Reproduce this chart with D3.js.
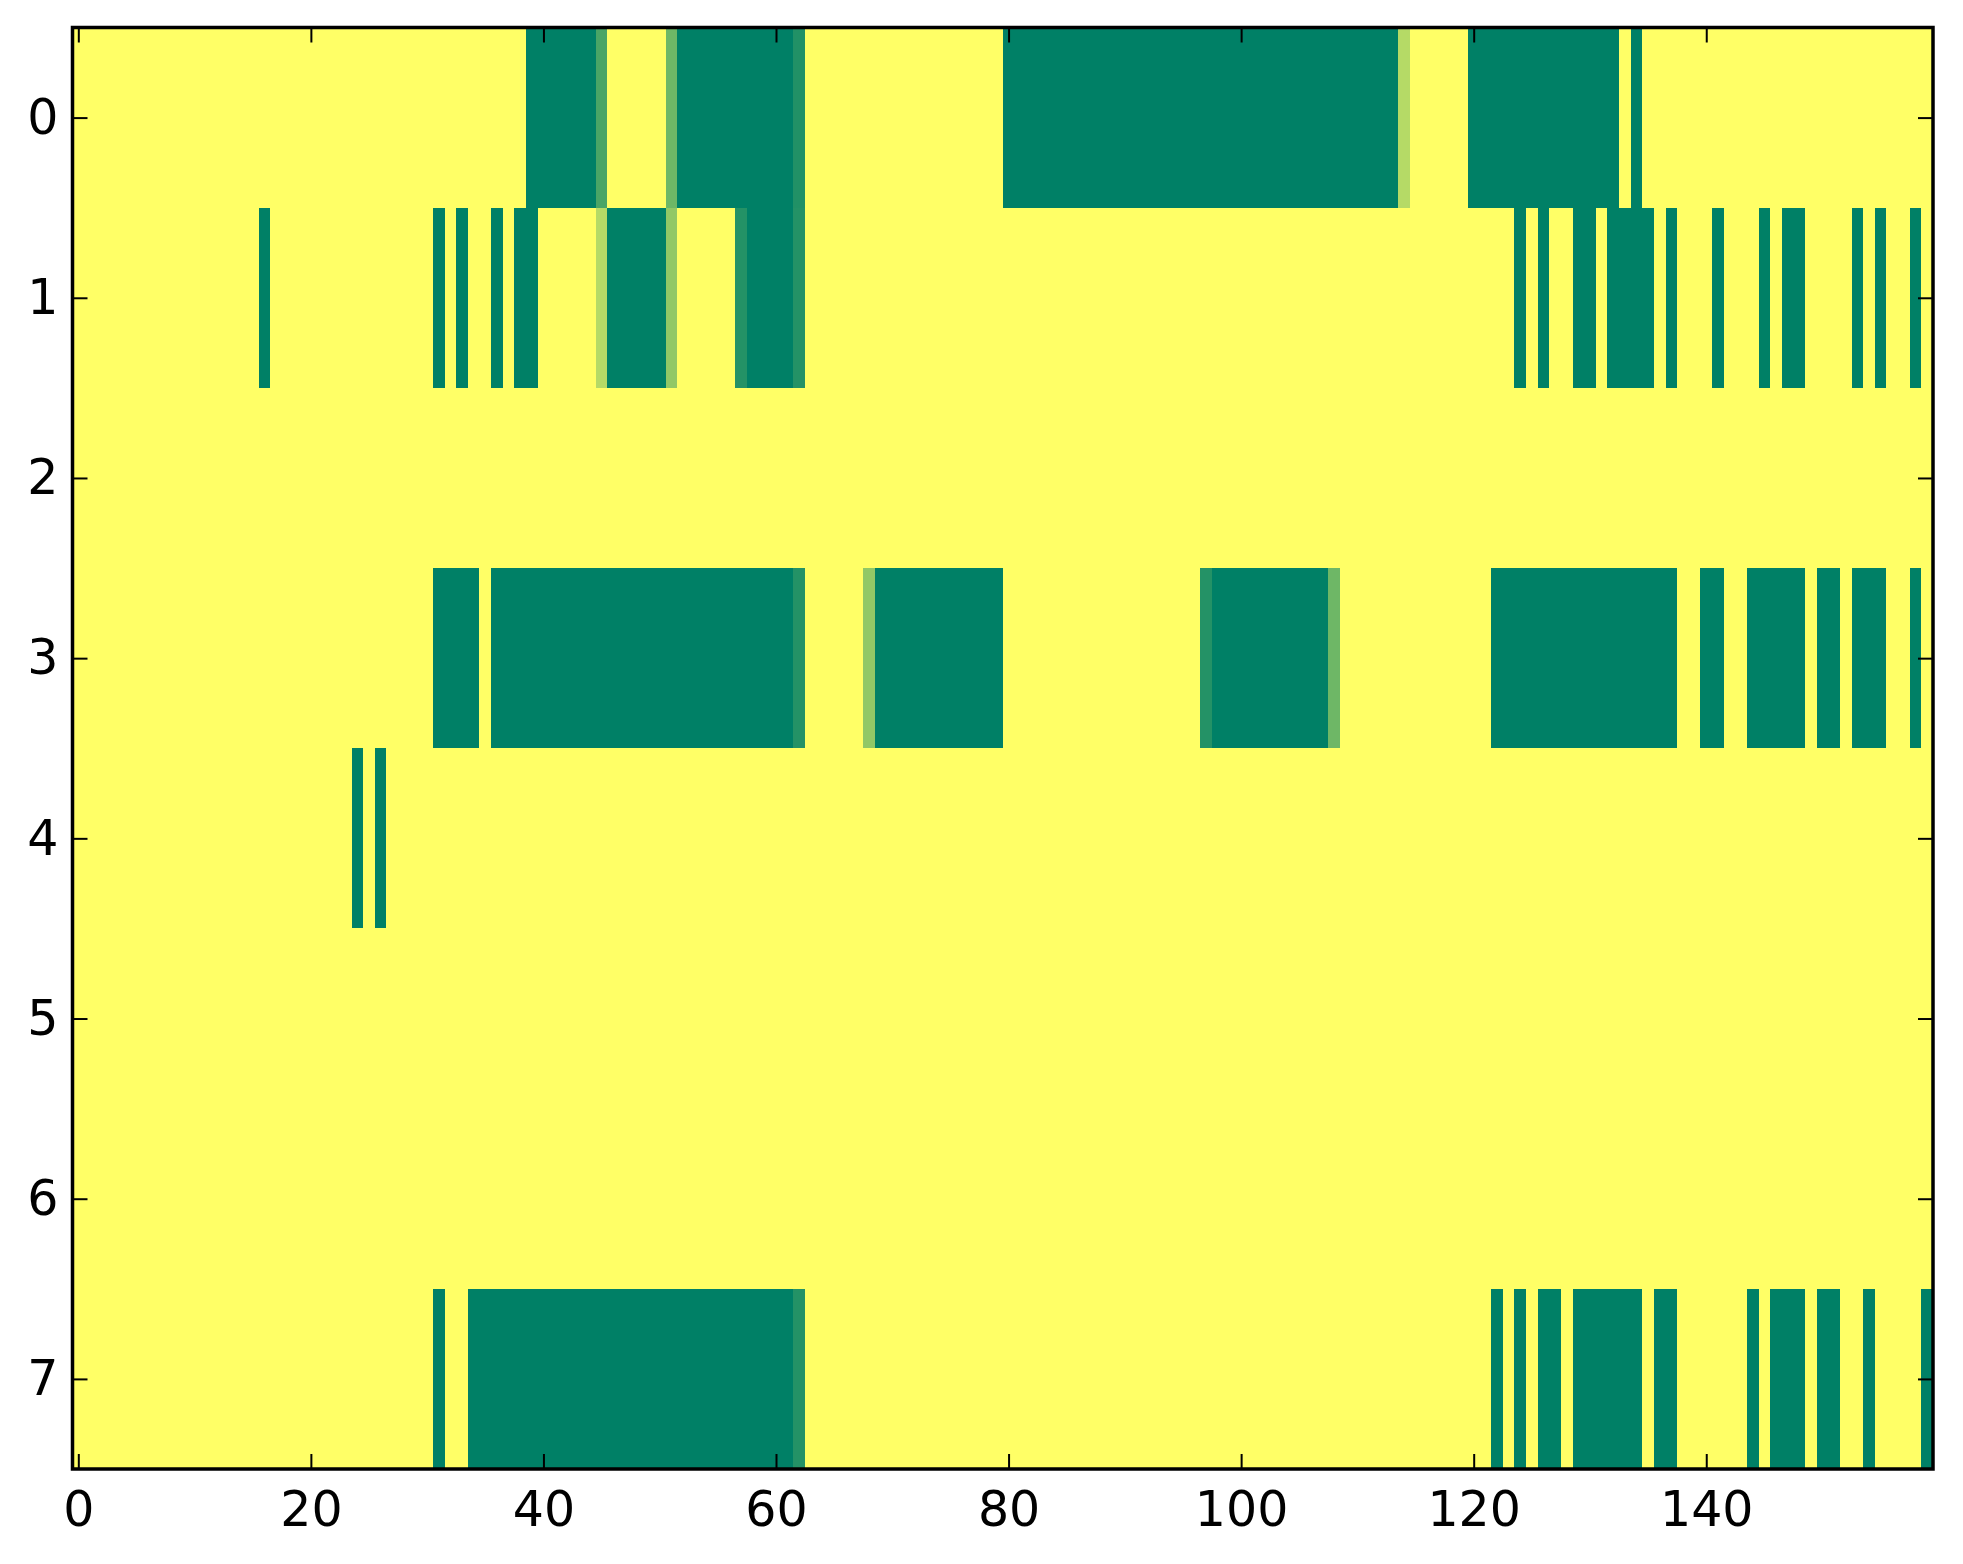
<!DOCTYPE html>
<html>
<head>
<meta charset="utf-8">
<script src="https://cdn.jsdelivr.net/npm/d3@7"></script>
<style>
  body { margin: 0; background: #ffffff; }
  .tick text { font-family: 'DejaVu Sans', sans-serif; font-size: 49px; fill: #000; }
  .tick line { stroke: #000; stroke-width: 2; }
</style>
</head>
<body>
<div class="heat-chart"></div>
<script>
/** cell values, one array per row (0 = green, 1 = yellow) */
let row0 = [
  1,1,1,1,1,1,1,1,1,1, 1,1,1,1,1,1,1,1,1,1,
  1,1,1,1,1,1,1,1,1,1, 1,1,1,1,1,1,1,1,1,0,
  0,0,0,0,0,0.29,1,1,1,1, 1,0.43,0,0,0,0,0,0,0,0,
  0,0,0.13,1,1,1,1,1,1,1, 1,1,1,1,1,1,1,1,1,1,
  0,0,0,0,0,0,0,0,0,0, 0,0,0,0,0,0,0,0,0,0,
  0,0,0,0,0,0,0,0,0,0, 0,0,0,0,0.71,1,1,1,1,1,
  0,0,0,0,0,0,0,0,0,0, 0,0,0,1,0,1,1,1,1,1,
  1,1,1,1,1,1,1,1,1,1, 1,1,1,1,1,1,1,1,1,1
];
let row1 = [
  1,1,1,1,1,1,1,1,1,1, 1,1,1,1,1,1,0,1,1,1,
  1,1,1,1,1,1,1,1,1,1, 1,0,1,0,1,1,0,1,0,0,
  1,1,1,1,1,0.71,0,0,0,0, 0,0.57,1,1,1,1,1,0.14,0,0,
  0,0,0.14,1,1,1,1,1,1,1, 1,1,1,1,1,1,1,1,1,1,
  1,1,1,1,1,1,1,1,1,1, 1,1,1,1,1,1,1,1,1,1,
  1,1,1,1,1,1,1,1,1,1, 1,1,1,1,1,1,1,1,1,1,
  1,1,1,1,0,1,0,1,1,0, 0,1,0,0,0,0,1,0,1,1,
  1,0,1,1,1,0,1,0,0,1, 1,1,1,0,1,0,1,1,0,1
];
let row2 = [
  1,1,1,1,1,1,1,1,1,1, 1,1,1,1,1,1,1,1,1,1,
  1,1,1,1,1,1,1,1,1,1, 1,1,1,1,1,1,1,1,1,1,
  1,1,1,1,1,1,1,1,1,1, 1,1,1,1,1,1,1,1,1,1,
  1,1,1,1,1,1,1,1,1,1, 1,1,1,1,1,1,1,1,1,1,
  1,1,1,1,1,1,1,1,1,1, 1,1,1,1,1,1,1,1,1,1,
  1,1,1,1,1,1,1,1,1,1, 1,1,1,1,1,1,1,1,1,1,
  1,1,1,1,1,1,1,1,1,1, 1,1,1,1,1,1,1,1,1,1,
  1,1,1,1,1,1,1,1,1,1, 1,1,1,1,1,1,1,1,1,1
];
let row3 = [
  1,1,1,1,1,1,1,1,1,1, 1,1,1,1,1,1,1,1,1,1,
  1,1,1,1,1,1,1,1,1,1, 1,0,0,0,0,1,0,0,0,0,
  0,0,0,0,0,0,0,0,0,0, 0,0,0,0,0,0,0,0,0,0,
  0,0,0.14,1,1,1,1,1,0.57,0, 0,0,0,0,0,0,0,0,0,0,
  1,1,1,1,1,1,1,1,1,1, 1,1,1,1,1,1,1,0.14,0,0,
  0,0,0,0,0,0,0,0,0.43,1, 1,1,1,1,1,1,1,1,1,1,
  1,1,0,0,0,0,0,0,0,0, 0,0,0,0,0,0,0,0,1,1,
  0,0,1,1,0,0,0,0,0,1, 0,0,1,0,0,0,1,1,0,1
];
let row4 = [
  1,1,1,1,1,1,1,1,1,1, 1,1,1,1,1,1,1,1,1,1,
  1,1,1,1,0,1,0,1,1,1, 1,1,1,1,1,1,1,1,1,1,
  1,1,1,1,1,1,1,1,1,1, 1,1,1,1,1,1,1,1,1,1,
  1,1,1,1,1,1,1,1,1,1, 1,1,1,1,1,1,1,1,1,1,
  1,1,1,1,1,1,1,1,1,1, 1,1,1,1,1,1,1,1,1,1,
  1,1,1,1,1,1,1,1,1,1, 1,1,1,1,1,1,1,1,1,1,
  1,1,1,1,1,1,1,1,1,1, 1,1,1,1,1,1,1,1,1,1,
  1,1,1,1,1,1,1,1,1,1, 1,1,1,1,1,1,1,1,1,1
];
let row5 = row2.slice();
let row6 = row2.slice();
let row7 = [
  1,1,1,1,1,1,1,1,1,1, 1,1,1,1,1,1,1,1,1,1,
  1,1,1,1,1,1,1,1,1,1, 1,0,1,1,0,0,0,0,0,0,
  0,0,0,0,0,0,0,0,0,0, 0,0,0,0,0,0,0,0,0,0,
  0,0,0.14,1,1,1,1,1,1,1, 1,1,1,1,1,1,1,1,1,1,
  1,1,1,1,1,1,1,1,1,1, 1,1,1,1,1,1,1,1,1,1,
  1,1,1,1,1,1,1,1,1,1, 1,1,1,1,1,1,1,1,1,1,
  1,1,0,1,0,1,0,0,1,0, 0,0,0,0,0,1,0,0,1,1,
  1,1,1,1,0,1,0,0,0,1, 0,0,1,1,0,1,1,1,1,0
];
let rows = [row0, row1, row2, row3, row4, row5, row6, row7];

/** tick labels */
let xTicks = [0, 20, 40, 60, 80, 100, 120, 140];
let yTicks = [0, 1, 2, 3, 4, 5, 6, 7];

/** canvas */
let width = 1963, height = 1564;
let margin = { top: 27.5, right: 30, bottom: 95, left: 72.5 };

let svg = d3.select('.heat-chart').append('svg')
    .attr('width', width)
    .attr('height', height);

/** scales: pixel centres at integer indices like imshow */
let xScale = d3.scaleLinear()
    .domain([-0.5, rows[0].length - 0.5])
    .range([margin.left, width - margin.right]);
let yScale = d3.scaleLinear()
    .domain([-0.5, rows.length - 0.5])
    .range([margin.top, height - margin.bottom]);

/** summer colormap */
let colorScale = d3.scaleLinear()
    .domain([0, 1])
    .range(['#008066', '#ffff66'])
    .interpolate(d3.interpolateRgb);

/** flatten into cells */
let cells = [];
rows.forEach(function (row, r) {
    row.forEach(function (v, c) { cells.push({ r: r, c: c, v: v }); });
});

svg.append('g')
    .selectAll('rect')
    .data(cells)
    .enter()
        .append('rect')
        .attr('x', function (d) { return xScale(d.c - 0.5) })
        .attr('y', function (d) { return yScale(d.r - 0.5) })
        .attr('width', function (d) { return xScale(d.c + 0.5) - xScale(d.c - 0.5) + 0.3 })
        .attr('height', function (d) { return yScale(d.r + 0.5) - yScale(d.r - 0.5) + 0.3 })
        .attr('fill', function (d) { return colorScale(d.v) })
        .attr('shape-rendering', 'crispEdges');

/** axes, ticks pointing inward */
let tickLen = 15;
let xBottom = svg.append('g')
    .attr('transform', `translate(0, ${height - margin.bottom})`)
    .call(d3.axisBottom(xScale).tickValues(xTicks).tickSize(-tickLen).tickPadding(22));
let xTop = svg.append('g')
    .attr('transform', `translate(0, ${margin.top})`)
    .call(d3.axisTop(xScale).tickValues(xTicks).tickSize(-tickLen).tickFormat(''));
let yLeft = svg.append('g')
    .attr('transform', `translate(${margin.left}, 0)`)
    .call(d3.axisLeft(yScale).tickValues(yTicks).tickSize(-tickLen).tickPadding(14));
let yRight = svg.append('g')
    .attr('transform', `translate(${width - margin.right}, 0)`)
    .call(d3.axisRight(yScale).tickValues(yTicks).tickSize(-tickLen).tickFormat(''));

[xBottom, xTop, yLeft, yRight].forEach(function (g) {
    g.select('.domain').remove();
    g.selectAll('text').attr('font-family', null).attr('font-size', null);
});

/** frame */
svg.append('rect')
    .attr('x', margin.left)
    .attr('y', margin.top)
    .attr('width', width - margin.left - margin.right)
    .attr('height', height - margin.top - margin.bottom)
    .attr('fill', 'none')
    .attr('stroke', '#000')
    .attr('stroke-width', 3.5);
</script>
</body>
</html>
